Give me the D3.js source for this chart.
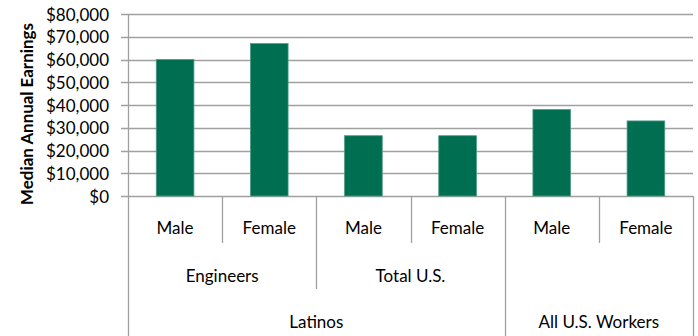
<!DOCTYPE html>
<html>
<head>
<meta charset="utf-8">
<script src="https://cdn.jsdelivr.net/npm/d3@7"></script>
<style>
  html, body { margin: 0; padding: 0; background: #fff; }
  svg { display: block; font-family: Lato, "Open Sans", sans-serif; }
</style>
</head>
<body>
<svg id="chart" width="698" height="336"></svg>
<script>
// ---- data ----
const categories = ["Male", "Female", "Male", "Female", "Male", "Female"];
const values = [60000, 67000, 26500, 26500, 38000, 33000];
const groupLabels = ["Engineers", "Total U.S.", ""];
const groupOfCategory = [0, 0, 1, 1, 2, 2];
const topLabels = ["Latinos", "All U.S. Workers"];
const topOfGroup = [0, 0, 1];
const yTicks = [0, 10000, 20000, 30000, 40000, 50000, 60000, 70000, 80000];
const yTitle = "Median Annual Earnings";

// ---- layout ----
const svg = d3.select("#chart");
const pL = 128, pR = 693, pT = 14, pB = 196;
const row1 = 243, row2 = 289, row3 = 336;
const gridColor = "#a0a0a0";
const barColor = "#006F51";

const idx = categories.map((d, i) => i);
const x = d3.scaleBand().domain(idx).range([pL, pR]).paddingInner(0.6).paddingOuter(0.3);
const y = d3.scaleLinear().domain([0, 80000]).range([pB, pT]);
const step = x.step();
const xEdge = i => pL + i * step;

// gridlines
svg.append("g").selectAll("line").data(yTicks).join("line")
  .attr("x1", pL - 7).attr("x2", pR)
  .attr("y1", d => Math.round(y(d)) + 0.5).attr("y2", d => Math.round(y(d)) + 0.5)
  .attr("stroke", gridColor).attr("stroke-width", 1.3);

// y axis
const yAxis = d3.axisLeft(y).tickValues(yTicks).tickSize(0).tickPadding(19)
  .tickFormat(d => "$" + d3.format(",")(d));
const ga = svg.append("g").attr("transform", `translate(${pL},0)`).call(yAxis);
ga.select(".domain").remove();
ga.selectAll("text").attr("font-size", 17).attr("fill", "#000")
  .attr("font-family", "Lato, sans-serif").attr("dy", "0.36em");

// bars
svg.append("g").selectAll("rect").data(values).join("rect")
  .attr("x", (d, i) => x(i)).attr("width", x.bandwidth())
  .attr("y", d => y(d)).attr("height", d => y(0) - y(d))
  .attr("fill", barColor).attr("stroke", "#4f9c84").attr("stroke-width", 0.8);

// vertical axis line
svg.append("line").attr("x1", pL + 0.5).attr("x2", pL + 0.5)
  .attr("y1", pT).attr("y2", row3).attr("stroke", gridColor).attr("stroke-width", 1.3);

// category dividers
const boundaries = d3.range(1, categories.length + 1);
const cat = svg.append("g");
boundaries.forEach(b => {
  let yEnd = row1;
  if (b === categories.length) yEnd = row3;
  else if (groupOfCategory[b] !== groupOfCategory[b - 1]) {
    yEnd = topOfGroup[groupOfCategory[b]] !== topOfGroup[groupOfCategory[b - 1]] ? row3 : row2;
  }
  const xx = Math.round(xEdge(b)) + 0.5;
  cat.append("line").attr("x1", xx).attr("x2", xx).attr("y1", pB).attr("y2", yEnd)
    .attr("stroke", gridColor).attr("stroke-width", 1.3);
});

// level 1 labels
cat.selectAll("text.l1").data(categories).join("text").attr("class", "l1")
  .attr("x", (d, i) => x(i) + x.bandwidth() / 2).attr("y", 234)
  .attr("text-anchor", "middle").attr("font-size", 17).text(d => d);

// level 2 labels
groupLabels.forEach((g, gi) => {
  const members = idx.filter(i => groupOfCategory[i] === gi);
  const cx = (xEdge(members[0]) + xEdge(members[members.length - 1] + 1)) / 2;
  cat.append("text").attr("x", cx).attr("y", 282).attr("text-anchor", "middle")
    .attr("font-size", 17).text(g);
});

// level 3 labels
topLabels.forEach((t, ti) => {
  const members = idx.filter(i => topOfGroup[groupOfCategory[i]] === ti);
  const cx = (xEdge(members[0]) + xEdge(members[members.length - 1] + 1)) / 2;
  cat.append("text").attr("x", cx).attr("y", 328).attr("text-anchor", "middle")
    .attr("font-size", 17).text(t);
});

// y title (sized to span the same length as the reference)
const title = svg.append("text").attr("transform", "translate(33,114) rotate(-90)")
  .attr("text-anchor", "middle").attr("font-weight", "bold").attr("font-size", 17)
  .text(yTitle);
const natural = title.node().getComputedTextLength();
title.attr("font-size", Math.min(19, 17 * 182 / natural));
</script>
</body>
</html>
